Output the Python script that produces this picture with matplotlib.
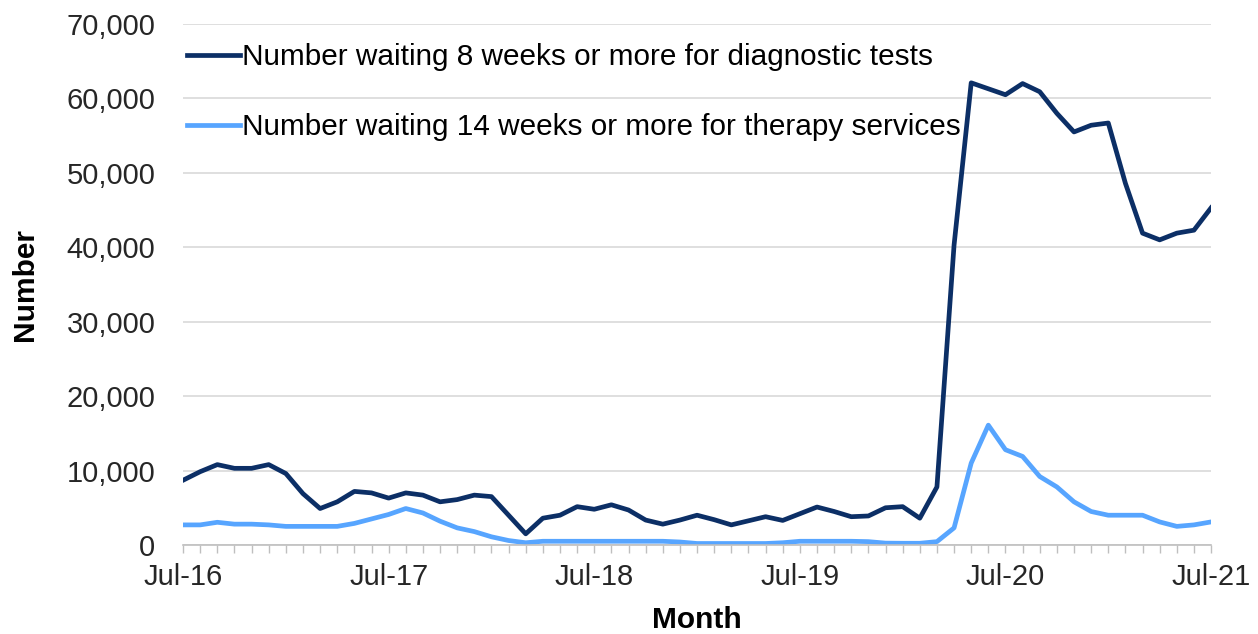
import matplotlib
matplotlib.use('Agg')
import matplotlib.pyplot as plt
from matplotlib.ticker import MultipleLocator, FuncFormatter

plt.rcParams['font.family'] = ['Liberation Sans', 'DejaVu Sans']

# Monthly values, Jul-16 .. Jul-21 (61 months)
diagnostic = [8700, 9850, 10800, 10300, 10300, 10800, 9600, 6900, 4900, 5800,
              7200, 7000, 6300, 7000, 6700, 5800, 6100, 6700, 6500, 4000,
              1500, 3600, 4000, 5150, 4800, 5400, 4700, 3350, 2800, 3350,
              4000, 3400, 2700, 3250, 3800, 3300, 4200, 5100, 4500, 3800,
              3900, 5000, 5150, 3600, 7800, 40300, 62100, 61300, 60500, 62000,
              60900, 58000, 55500, 56400, 56700, 48600, 41900, 41000, 41900, 42300,
              45300]
therapy = [2700, 2700, 3050, 2800, 2800, 2700, 2500, 2500, 2500, 2500,
           2900, 3500, 4100, 4900, 4300, 3200, 2300, 1800, 1100, 600,
           300, 500, 500, 500, 500, 500, 500, 500, 500, 400,
           200, 200, 200, 200, 200, 300, 500, 500, 500, 500,
           450, 250, 230, 230, 450, 2300, 11000, 16100, 12800, 11900,
           9200, 7800, 5800, 4500, 4000, 4000, 4000, 3100, 2500, 2700,
           3100]
tick_labels = ['Jul-16', 'Jul-17', 'Jul-18', 'Jul-19', 'Jul-20', 'Jul-21']

months = list(range(len(diagnostic)))

fig = plt.figure(figsize=(12.58, 6.34), dpi=100)
ax = fig.add_axes([0.1455, 0.1404, 0.8172, 0.8217])

ax.plot(months, diagnostic, color='#0c2f66', lw=3.4,
        label='Number waiting 8 weeks or more for diagnostic tests')
ax.plot(months, therapy, color='#57a5ff', lw=3.4,
        label='Number waiting 14 weeks or more for therapy services')

ax.set_xlim(0, 60)
ax.set_ylim(0, 70000)
ax.set_xticks(range(0, 61, 12))
ax.set_xticklabels(tick_labels)
ax.xaxis.set_minor_locator(MultipleLocator(1))
ax.set_yticks(range(0, 70001, 10000))
ax.yaxis.set_major_formatter(FuncFormatter(lambda v, p: f'{int(v):,}'))

ax.grid(axis='y', color='#d9d9d9', lw=1.2)
ax.set_axisbelow(True)
for s in ['top', 'right', 'left']:
    ax.spines[s].set_visible(False)
ax.spines['bottom'].set_color('#bfbfbf')
ax.spines['bottom'].set_linewidth(1.2)

ax.tick_params(axis='y', length=0, labelsize=21, colors='#262626', pad=20)
ax.tick_params(axis='x', which='both', length=6, color='#bfbfbf', width=1,
               labelsize=21, labelcolor='#262626', pad=7)

ax.set_xlabel('Month', fontsize=21.5, fontweight='bold', labelpad=11)
ax.set_ylabel('Number', fontsize=21.5, fontweight='bold', labelpad=20)

ax.legend(loc='upper left', bbox_to_anchor=(0.004, 0.9635), frameon=False,
          fontsize=21.4, handlelength=1.78, handletextpad=0.07, labelspacing=1.42,
          borderaxespad=0, borderpad=0)

plt.savefig('out.png', dpi=100)
plt.close()
